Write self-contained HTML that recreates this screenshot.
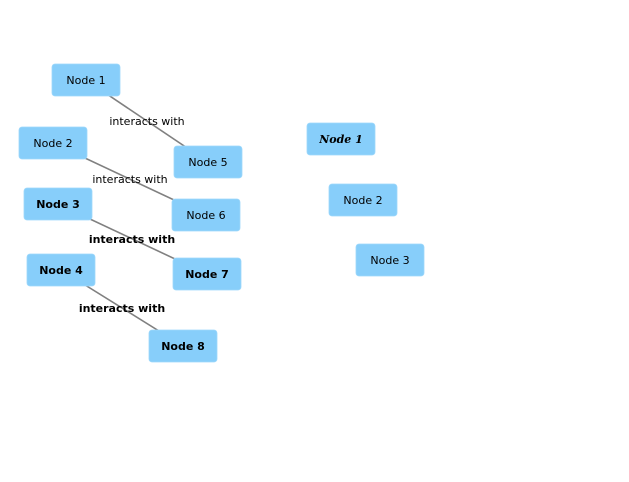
<!DOCTYPE html>
<html><head><meta charset="utf-8"><style>
body{margin:0;background:#fff}
svg{display:block}
text{font-family:"DejaVu Sans","Liberation Sans",sans-serif;font-size:11px;fill:#000}
</style></head><body>
<svg id="chart" width="629" height="482" viewBox="0 0 629 482" xmlns="http://www.w3.org/2000/svg">
<g id="edges"></g><g id="nodes"></g>
</svg>
<script>
const nodeLabels = ["Node 1","Node 5","Node 2","Node 6","Node 3","Node 7","Node 4","Node 8","Node 1","Node 2","Node 3"];
const nodeX = [86,208,53,206,58,207,61,183,341,363,390];
const nodeY = [80,162,143,215,204,274,270,346,139,200,260];
const nodeStyle = ["n","n","n","n","b","b","b","b","i","n","s"];
const edgeFrom = [0,2,4,6];
const edgeTo = [1,3,5,7];
const edgeLabels = ["interacts with","interacts with","interacts with","interacts with"];
const edgeLabelX = [147,130,132,122];
const edgeLabelY = [121,179,239,308];
const edgeBold = [false,false,true,true];
const NS="http://www.w3.org/2000/svg";
const eg=document.getElementById('edges'), ng=document.getElementById('nodes');
edgeFrom.forEach((f,i)=>{
  const t=edgeTo[i];
  const l=document.createElementNS(NS,'line');
  l.setAttribute('x1',nodeX[f]);l.setAttribute('y1',nodeY[f]);
  l.setAttribute('x2',nodeX[t]);l.setAttribute('y2',nodeY[t]);
  l.setAttribute('stroke','#808080');l.setAttribute('stroke-width','1.6');
  
  
  eg.appendChild(l);
  const tx=document.createElementNS(NS,'text');
  tx.setAttribute('x',edgeLabelX[i]);tx.setAttribute('y',edgeLabelY[i]+4);
  tx.setAttribute('text-anchor','middle');
  if(edgeBold[i]) tx.setAttribute('font-weight','bold');
  tx.textContent=edgeLabels[i];
  
  
  eg.appendChild(tx);
});
nodeLabels.forEach((lab,i)=>{
  const g=document.createElementNS(NS,'g');
  
  
  const r=document.createElementNS(NS,'rect');
  r.setAttribute('x',nodeX[i]-34);r.setAttribute('y',nodeY[i]-16);
  r.setAttribute('width',68);r.setAttribute('height',32);r.setAttribute('rx',3);
  r.setAttribute('fill','#87CEFA');r.setAttribute('stroke','#9fd8fb');r.setAttribute('stroke-width','0.8');
  
  
  g.appendChild(r);
  const t=document.createElementNS(NS,'text');
  t.setAttribute('x',nodeX[i]);t.setAttribute('y',nodeY[i]+4);
  t.setAttribute('text-anchor','middle');
  const s=nodeStyle[i];
  if(s==='b') t.setAttribute('font-weight','bold');
  if(s==='i'){t.setAttribute('font-style','italic');t.setAttribute('font-weight','bold');t.setAttribute('style','font-family:"DejaVu Serif","Liberation Serif",serif');}
  if(s==='s') t.setAttribute('font-size','10.5');
  t.textContent=lab;
  
  
  g.appendChild(t);
  ng.appendChild(g);
});
</script>
</body></html>
